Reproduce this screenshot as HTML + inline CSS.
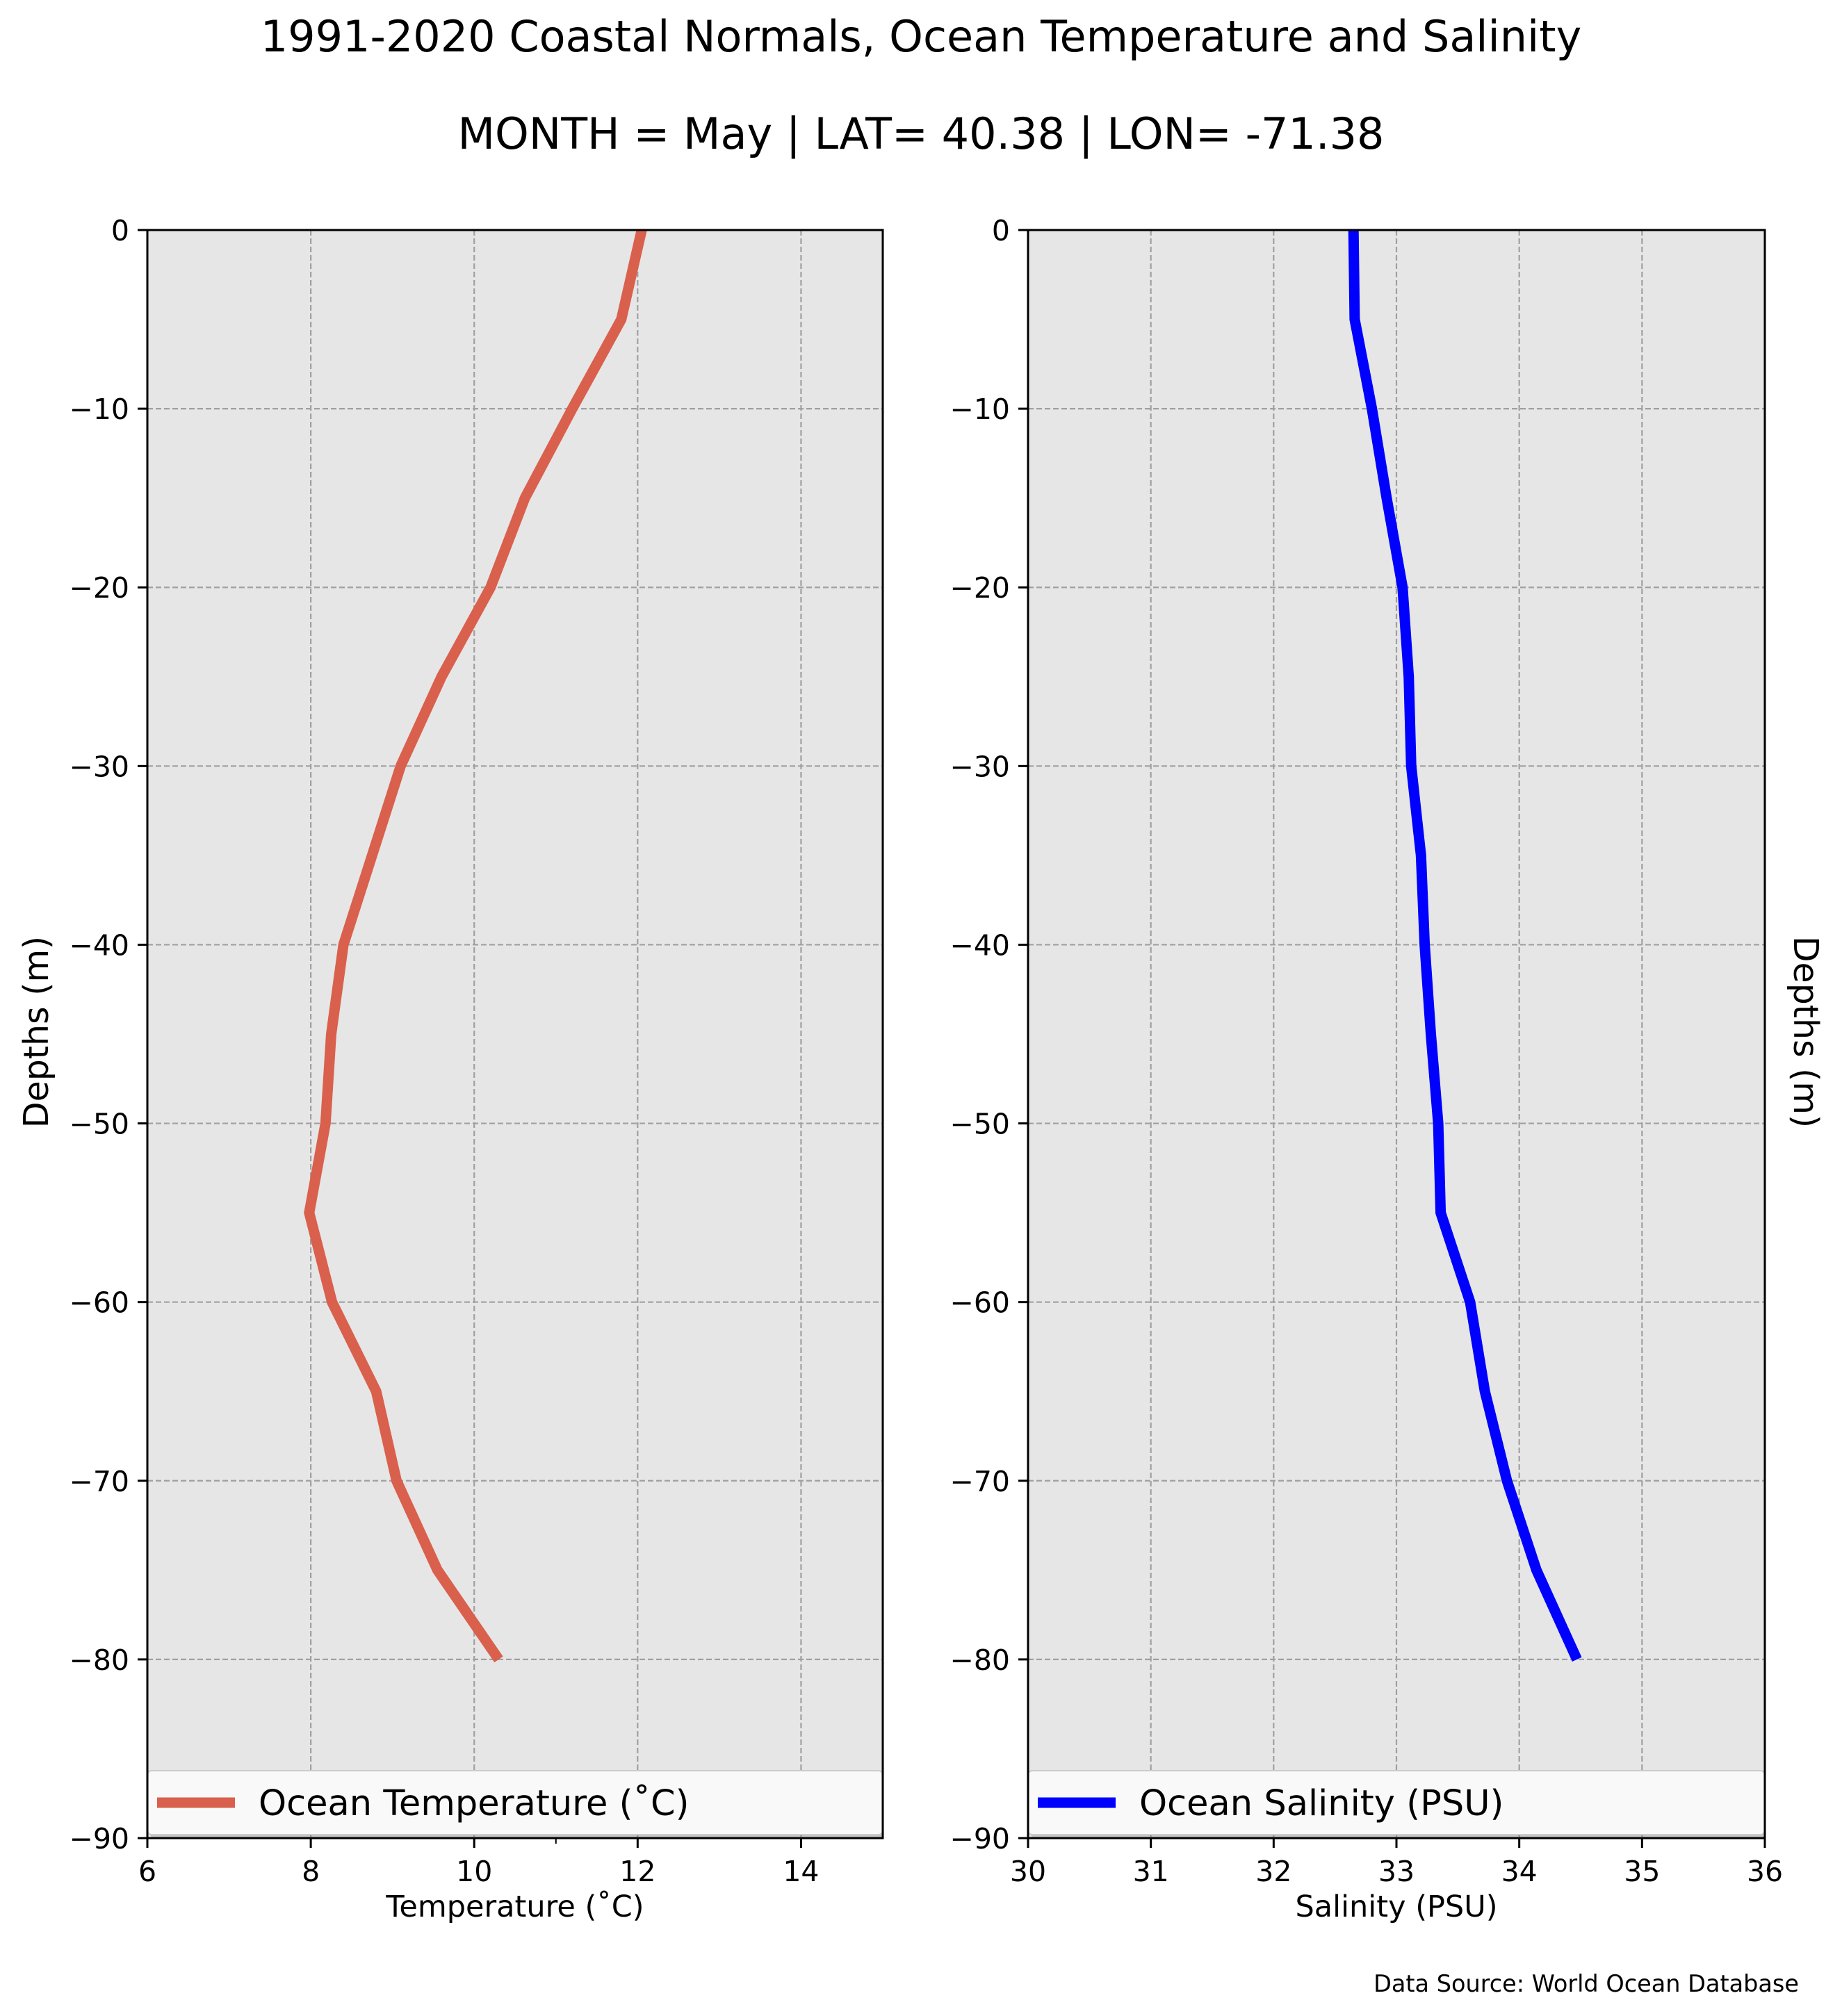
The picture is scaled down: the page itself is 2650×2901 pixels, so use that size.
<!DOCTYPE html>
<html><head><meta charset="utf-8"><style>
html,body{margin:0;padding:0;background:#fff}
svg{display:block;font-family:"DejaVu Sans","Liberation Sans",sans-serif}
</style></head><body>
<svg id="chart" width="2650" height="2901" viewBox="0 0 2650 2901" xmlns="http://www.w3.org/2000/svg">
<text x="1325" y="74" font-size="62" text-anchor="middle">1991-2020 Coastal Normals, Ocean Temperature and Salinity</text>
<text x="1325" y="214" font-size="62" text-anchor="middle">MONTH = May | LAT= 40.38 | LON= -71.38</text>
<g id="p1"></g>
<g id="p2"></g>
<text x="52" y="1485" font-size="49" text-anchor="middle" transform="rotate(-90 52 1485)" dy="17">Depths (m)</text>
<text x="2598" y="1485" font-size="49" text-anchor="middle" transform="rotate(90 2598 1485)" dy="17">Depths (m)</text>
<text x="2588" y="2866" font-size="33.5" text-anchor="end">Data Source: World Ocean Database</text>
</svg>
<script>
const depths = [0,-5,-10,-15,-20,-25,-30,-35,-40,-45,-50,-55,-60,-65,-70,-75,-80];
const temperature = [12.05,11.8,11.2,10.62,10.2,9.6,9.1,8.75,8.4,8.25,8.18,7.98,8.26,8.8,9.05,9.55,10.3];
const salinity = [32.65,32.66,32.8,32.92,33.05,33.1,33.12,33.2,33.23,33.28,33.34,33.36,33.6,33.72,33.9,34.14,34.47];
const yTicks = [0,-10,-20,-30,-40,-50,-60,-70,-80,-90];
const tempTicks = [6,8,10,12,14];
const salTicks = [30,31,32,33,34,35,36];

const NS='http://www.w3.org/2000/svg';
const TOP=331, BOT=2645;
function yScale(d){return TOP+(0-d)/90*(BOT-TOP);}
function mk(tag,attrs,parent){const e=document.createElementNS(NS,tag);for(const k in attrs)e.setAttribute(k,attrs[k]);parent.appendChild(e);return e;}

function panel(g,L,R,xmin,xmax,xTicks,minorTicks,vals,color,legendText,xTitle,pfx){
  const xs=v=>L+(v-xmin)/(xmax-xmin)*(R-L);
  const bg=mk('rect',{x:L,y:TOP,width:R-L,height:BOT-TOP,fill:'#e6e6e6'},g);
  
  
  yTicks.forEach(t=>{
    const y=yScale(t);
    if(t!==0&&t!==-90){const gl=mk('line',{x1:L,x2:R,y1:y,y2:y,stroke:'#a0a0a0','stroke-width':2.2,'stroke-dasharray':'8,4'},g);
    
    }
    mk('line',{x1:L-14,x2:L,y1:y,y2:y,stroke:'#000','stroke-width':3},g);
    const tx=mk('text',{x:L-26,y:y+15,'font-size':41,'text-anchor':'end'},g);
    tx.textContent=(t<0?'\u2212':'')+Math.abs(t);
    
    
  });
  xTicks.forEach(t=>{
    const x=xs(t);
    if(t!==xmin&&t!==xmax){const gl=mk('line',{x1:x,x2:x,y1:TOP,y2:BOT,stroke:'#a0a0a0','stroke-width':2.2,'stroke-dasharray':'8,4'},g);
    
    }
    mk('line',{x1:x,x2:x,y1:BOT,y2:BOT+14,stroke:'#000','stroke-width':3},g);
    const tx=mk('text',{x:x,y:BOT+62,'font-size':41,'text-anchor':'middle'},g);
    tx.textContent=t;
    
    
  });
  minorTicks.forEach(t=>{const x=xs(t);mk('line',{x1:x,x2:x,y1:BOT,y2:BOT+8,stroke:'#000','stroke-width':2},g);});
  const pts=vals.map((v,i)=>xs(v).toFixed(1)+','+yScale(depths[i]).toFixed(1)).join(' ');
  const pl=mk('polyline',{points:pts,fill:'none',stroke:color,'stroke-width':15,'stroke-linejoin':'miter'},g);
  
  
  const lg=mk('g',{},g);
  
  
  mk('rect',{x:L+4,y:2553,width:R-L-4,height:92,rx:6,fill:'#000','fill-opacity':0.15},lg);
  mk('rect',{x:L,y:2548,width:R-L,height:92,rx:6,fill:'#f9f9f9',stroke:'#cccccc','stroke-width':2},lg);
  mk('line',{x1:L+14,x2:L+126,y1:2594,y2:2594,stroke:color,'stroke-width':15},lg);
  const lt=mk('text',{x:L+160,y:2612,'font-size':51},lg);
  lt.textContent=legendText;
  
  
  mk('rect',{x:L,y:TOP,width:R-L,height:BOT-TOP,fill:'none',stroke:'#000','stroke-width':3},g);
  const xt=mk('text',{x:(L+R)/2,y:2758,'font-size':43,'text-anchor':'middle'},g);
  xt.textContent=xTitle;
  
  
}
panel(document.getElementById('p1'),212,1270,6,15,tempTicks,[11],temperature,'#d9604c','Ocean Temperature (\u02DAC)','Temperature (\u02DAC)','temperature');
panel(document.getElementById('p2'),1479,2539,30,36,salTicks,[],salinity,'#0000ff','Ocean Salinity (PSU)','Salinity (PSU)','salinity');
</script>
</body></html>
